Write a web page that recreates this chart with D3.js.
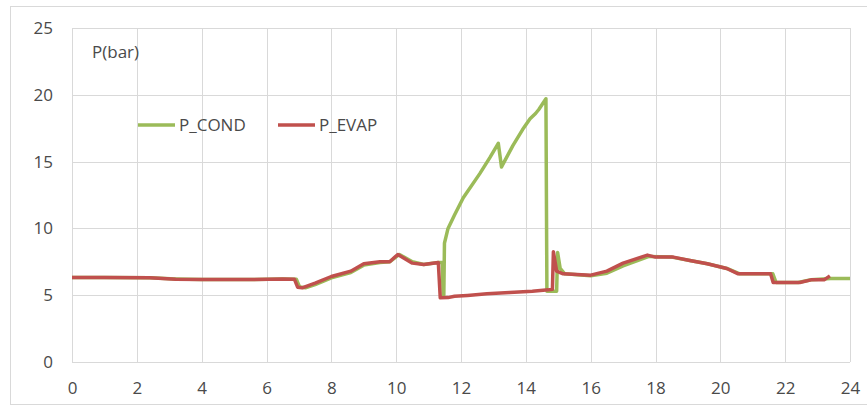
<!DOCTYPE html>
<html>
<head>
<meta charset="utf-8">
<script src="https://cdn.jsdelivr.net/npm/d3@7"></script>
<style>
  body { margin: 0; background: #fff; }
  svg text { font-family: "Open Sans", "Liberation Sans", sans-serif; fill: #4a4a4a; }
</style>
</head>
<body>
<svg width="867" height="409"></svg>
<script>
// heures / pression (bar)
var xTicks = [0, 2, 4, 6, 8, 10, 12, 14, 16, 18, 20, 22, 24];
var yTicks = [0, 5, 10, 15, 20, 25];
var seriesNames = ["P_COND", "P_EVAP"];
var seriesColors = ["#9bbb59", "#c0504d"];

var pCond = [
  [0, 6.33], [1, 6.33], [2.4, 6.3], [3.2, 6.22], [4, 6.17], [5.5, 6.17], [6.5, 6.22], [6.92, 6.2],
  [7.02, 5.62], [7.2, 5.55], [7.5, 5.8], [8, 6.3], [8.6, 6.7], [9, 7.25], [9.5, 7.45], [9.8, 7.5],
  [10.1, 8.05], [10.5, 7.5], [10.85, 7.3], [11.3, 7.45], [11.42, 7.45], [11.45, 5.0], [11.47, 5.0],
  [11.49, 8.9], [11.6, 10.0], [11.8, 11.0], [12.07, 12.3], [12.58, 14.1], [12.89, 15.3], [13.15, 16.37],
  [13.25, 14.6], [13.6, 16.2], [13.9, 17.4], [14.13, 18.2], [14.3, 18.6], [14.4, 18.9], [14.62, 19.7],
  [14.65, 5.3], [14.95, 5.3], [14.98, 8.2], [15.06, 7.0], [15.2, 6.6], [16, 6.45], [16.5, 6.65],
  [17, 7.2], [17.8, 7.9], [18.5, 7.85], [19.06, 7.6], [19.6, 7.35], [20.2, 7.0], [20.6, 6.6],
  [21.62, 6.6], [21.72, 5.95], [22.4, 5.95], [22.8, 6.15], [23.4, 6.25], [24, 6.25]
];

var pEvap = [
  [0, 6.33], [1, 6.33], [2.4, 6.3], [3.2, 6.2], [4, 6.17], [5.5, 6.17], [6.5, 6.22], [6.86, 6.2],
  [6.96, 5.6], [7.1, 5.55], [7.5, 5.9], [8, 6.4], [8.6, 6.8], [9, 7.35], [9.5, 7.5], [9.8, 7.5],
  [10.05, 8.05], [10.5, 7.4], [10.85, 7.3], [11.3, 7.45], [11.36, 4.8], [11.6, 4.82], [11.8, 4.92],
  [12.2, 4.98], [12.8, 5.1], [13.5, 5.2], [14.2, 5.3], [14.7, 5.4], [14.82, 5.45], [14.85, 8.25],
  [14.95, 6.8], [15.15, 6.6], [16, 6.5], [16.5, 6.8], [17, 7.4], [17.75, 8.0], [18.0, 7.85],
  [18.55, 7.85], [19.06, 7.6], [19.6, 7.35], [20.2, 7.0], [20.55, 6.6], [21.55, 6.6], [21.63, 5.95],
  [22.45, 5.95], [22.8, 6.15], [23.2, 6.15], [23.38, 6.45]
];

var svg = d3.select("svg");
var margin = { left: 72, right: 17, top: 28, bottom: 47 };
var width = 867 - margin.left - margin.right,
    height = 409 - margin.top - margin.bottom;

// cadre du graphique
svg.append("rect")
  .attr("x", 10.5).attr("y", 6.5)
  .attr("width", 870).attr("height", 398)
  .attr("fill", "none").attr("stroke", "#d9d9d9");

var g = svg.append("g").attr("transform", "translate(" + margin.left + "," + margin.top + ")");

var x = d3.scaleLinear().domain([0, 24]).range([0, width]);
var y = d3.scaleLinear().domain([0, 25]).range([height, 0]);

// grille
g.selectAll(".vgrid").data(xTicks).enter().append("line")
  .attr("x1", function(d) { return Math.round(x(d)) + 0.5; })
  .attr("x2", function(d) { return Math.round(x(d)) + 0.5; })
  .attr("y1", 0).attr("y2", height)
  .attr("stroke", "#d9d9d9");

g.selectAll(".hgrid").data(yTicks).enter().append("line")
  .attr("y1", function(d) { return Math.round(y(d)) + 0.5; })
  .attr("y2", function(d) { return Math.round(y(d)) + 0.5; })
  .attr("x1", 0).attr("x2", width)
  .attr("stroke", "#d9d9d9");

// axes
var xAxis = g.append("g").attr("transform", "translate(0," + height + ")")
  .call(d3.axisBottom(x).tickValues(xTicks).tickSize(0).tickPadding(20));
var yAxis = g.append("g")
  .call(d3.axisLeft(y).tickValues(yTicks).tickSize(0).tickPadding(19));
[xAxis, yAxis].forEach(function(a) {
  a.select(".domain").remove();
  a.selectAll("text").style("font-size", "17px").attr("fill", "#4a4a4a")
    .style("font-family", "'Open Sans', sans-serif");
});

// courbes
var line = d3.line()
  .x(function(d) { return x(d[0]); })
  .y(function(d) { return y(d[1]); });

[pCond, pEvap].forEach(function(s, i) {
  g.append("path")
    .datum(s)
    .attr("fill", "none")
    .attr("stroke", seriesColors[i])
    .attr("stroke-width", 3.5)
    .attr("stroke-linejoin", "round")
    .attr("d", line);
});

// titre axe Y
svg.append("text")
  .attr("x", 92).attr("y", 58)
  .style("font-size", "17px")
  .text("P(bar)");

// légende
var legend = svg.selectAll(".legend").data(seriesNames).enter().append("g")
  .attr("transform", function(d, i) { return "translate(" + (138 + i * 140) + ",125)"; });
legend.append("line")
  .attr("x1", 0).attr("x2", 37)
  .attr("stroke", function(d, i) { return seriesColors[i]; })
  .attr("stroke-width", 3.5);
legend.append("text")
  .attr("x", 41).attr("y", 6)
  .style("font-size", "17px")
  .text(function(d) { return d; });
</script>
</body>
</html>
